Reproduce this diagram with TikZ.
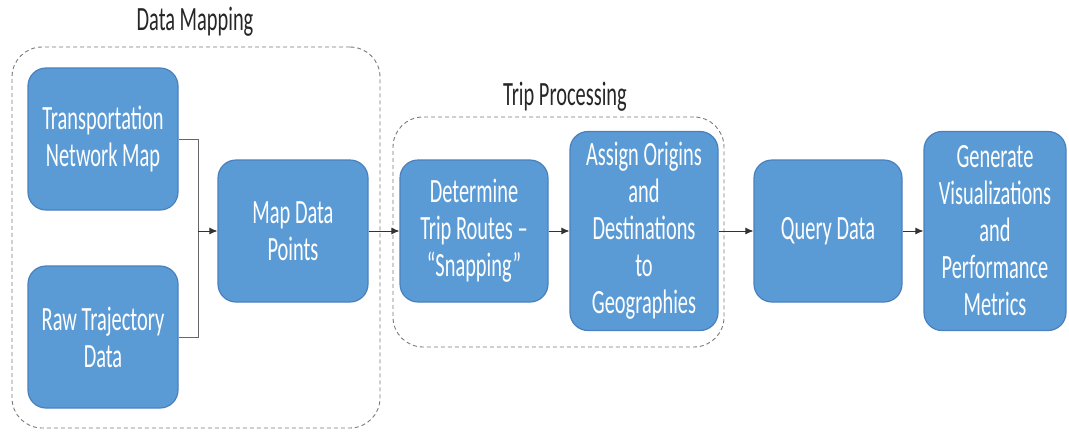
\documentclass[tikz,border=0pt]{standalone}
\usepackage{fontspec}
\setmainfont{Carlito}[FakeStretch=0.6]
\usetikzlibrary{arrows.meta}

\definecolor{boxblue}{HTML}{5B9BD5}
\definecolor{boxline}{HTML}{4A80BE}
\definecolor{grpgray}{HTML}{7A7A7A}

\begin{document}
\begin{tikzpicture}[x=1pt,y=-1pt,
    stage/.style={draw=boxline,line width=1.2pt,fill=boxblue,rounded corners=18pt,
      text=white,align=center,minimum width=150pt,minimum height=142pt,inner sep=2pt,
      font=\fontsize{34}{37}\selectfont},
    group/.style={draw=grpgray,line width=0.9pt,dash pattern=on 4pt off 3pt,
      rounded corners=30pt,minimum width=#1},
    grouptitle/.style={text=black!85,font=\fontsize{34}{37}\selectfont},
    flow/.style={-{Latex[length=8pt,width=7pt]},line width=0.8pt,black!80}]
    \useasboundingbox (0,0) rectangle (1069,432);
    % groups
    \node[group=368pt,minimum height=381pt] (mapgrp) at (196,237.5) {};
    \node[grouptitle] (maptitle) at (195,22) {Data Mapping};
    \node[group=331pt,minimum height=230pt] (tripgrp) at (558.5,232) {};
    \node[grouptitle] (triptitle) at (565,97) {Trip Processing};
    % stages
    \node[stage] (tnm) at (103,139) {Transportation\\Network Map};
    \node[stage] (raw) at (103,337) {Raw Trajectory\\Data};
    \node[stage] (mdp) at (293,231) {Map Data\\Points};
    \node[stage,minimum width=148pt] (route) at (474,231) {Determine\\Trip Routes --\\``Snapping''};
    \node[stage,minimum width=148pt,minimum height=199pt] (assign) at (644,231)
      {Assign Origins\\and\\Destinations\\to\\Geographies};
    \node[stage,minimum width=148pt] (query) at (828,231) {Query Data};
    \node[stage,minimum width=142pt,minimum height=199pt] (viz) at (995,231)
      {Generate\\Visualizations\\and\\Performance\\Metrics};
    % connectors
    \coordinate (join) at (198,231);
    \draw[line width=0.8pt,black!60] (tnm.east) -| (join);
    \draw[line width=0.8pt,black!60] (raw.east) -| (join);
    \draw[flow] (join) -- (mdp.west);
    \draw[flow] (mdp) -- (route);
    \draw[flow] (route) -- (assign);
    \draw[flow] (assign) -- (query);
    \draw[flow] (query) -- (viz);
\end{tikzpicture}
\end{document}
